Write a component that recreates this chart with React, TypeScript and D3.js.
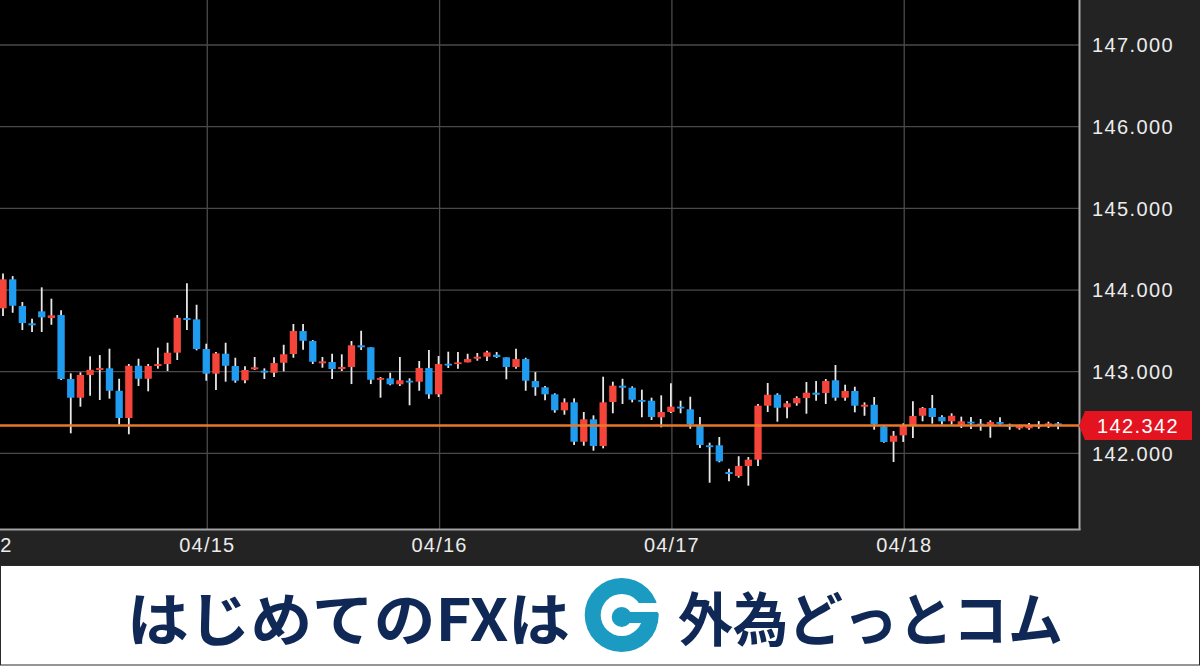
import React from "react";
import * as d3 from "d3";

const openP = [143.776,144.131,143.804,143.592,143.739,143.657,143.694,142.911,142.682,142.960,
143.021,143.042,142.767,142.433,143.073,142.914,143.070,143.094,143.233,143.657,
143.641,143.278,142.976,143.220,143.070,142.895,143.029,143.012,142.988,143.110,
143.217,143.498,143.376,143.103,143.119,143.033,143.058,143.323,143.299,142.902,
142.919,142.846,142.890,142.878,143.045,142.723,143.098,143.094,143.115,143.159,
143.184,143.208,143.176,143.058,143.155,142.886,142.809,142.723,142.528,142.625,
142.143,142.417,142.091,142.629,142.829,142.804,142.654,142.645,142.442,142.507,
142.572,142.540,142.335,142.099,142.099,141.772,141.723,141.846,141.923,142.584,
142.718,142.564,142.613,142.678,142.743,142.739,142.895,142.682,142.764,142.572,
142.596,142.327,142.143,142.221,142.339,142.461,142.556,142.446,142.393,142.351,
142.388,142.364,142.351,142.384,142.351,142.307,142.307,142.327,142.339,142.368];

const highP = [144.204,144.171,143.853,143.649,144.033,143.894,143.752,142.980,142.993,143.188,
143.204,143.282,142.914,143.094,143.159,143.094,143.294,143.355,143.694,144.082,
143.820,143.343,143.241,143.355,143.171,143.066,143.180,143.042,143.176,143.330,
143.584,143.584,143.388,143.180,143.220,143.213,143.376,143.502,143.299,142.935,
142.988,143.180,142.919,143.131,143.266,143.192,143.245,143.241,143.220,143.229,
143.257,143.241,143.176,143.282,143.171,142.996,142.825,142.736,142.674,142.674,
142.507,142.466,142.939,142.878,142.914,142.821,142.780,142.682,142.711,142.858,
142.645,142.694,142.446,142.131,142.201,141.813,141.965,141.956,142.605,142.862,
142.736,142.641,142.699,142.874,142.886,142.911,143.082,142.841,142.816,142.625,
142.690,142.339,142.274,142.368,142.638,142.568,142.715,142.466,142.491,142.450,
142.446,142.421,142.405,142.442,142.364,142.351,142.372,142.396,142.388,142.384];

const lowP = [143.682,143.722,143.510,143.486,143.486,143.575,142.898,142.246,142.572,142.706,
142.654,142.670,142.351,142.234,142.825,142.760,143.037,143.009,143.143,143.510,
143.262,142.890,142.776,142.878,142.865,142.858,143.021,142.911,142.935,143.005,
143.171,143.269,143.094,143.049,142.911,143.009,142.849,143.266,142.849,142.682,
142.834,142.825,142.589,142.767,142.670,142.690,143.045,143.037,143.115,143.135,
143.131,143.168,142.907,143.037,142.767,142.706,142.650,142.498,142.474,142.103,
142.094,142.033,142.062,142.491,142.605,142.625,142.442,142.409,142.319,142.494,
142.491,142.302,142.066,141.641,141.891,141.658,141.703,141.605,141.846,142.507,
142.388,142.430,142.584,142.486,142.645,142.605,142.645,142.645,142.503,142.461,
142.290,142.131,141.895,142.140,142.188,142.393,142.364,142.351,142.351,142.311,
142.299,142.278,142.192,142.351,142.290,142.290,142.290,142.302,142.311,142.295];

const closeP = [144.131,143.808,143.596,143.568,143.666,143.690,142.911,142.682,142.960,143.024,
143.045,142.767,142.433,143.073,142.914,143.070,143.094,143.233,143.661,143.633,
143.278,142.976,143.225,143.073,142.890,143.021,143.054,142.993,143.106,143.213,
143.498,143.379,143.122,143.127,143.033,143.058,143.323,143.299,142.902,142.923,
142.846,142.895,142.870,143.045,142.723,143.094,143.078,143.115,143.155,143.184,
143.237,143.180,143.058,143.155,142.890,142.809,142.723,142.528,142.625,142.143,
142.417,142.091,142.625,142.829,142.804,142.657,142.633,142.446,142.507,142.572,
142.552,142.356,142.103,142.078,141.903,141.748,141.846,141.923,142.584,142.718,
142.559,142.613,142.678,142.743,142.718,142.886,142.682,142.764,142.584,142.596,
142.356,142.140,142.217,142.335,142.458,142.556,142.446,142.393,142.461,142.393,
142.368,142.351,142.384,142.364,142.327,142.335,142.339,142.351,142.368,142.342];

const dateTickIndex = [-2, 21, 45, 69, 93];
const dateTickLabels = ["04/12", "04/15", "04/16", "04/17", "04/18"];
const priceTicks = [142, 143, 144, 145, 146, 147];
const currentPrice = 142.342;

const W = 1200;
const H = 667;
const plotRight = 1080;
const plotBottom = 530;
const bannerTop = 565;

const UP = "#f5453a";
const DOWN = "#1f9cf0";

export default function App() {
  const x = d3.scaleLinear().domain([0, 109]).range([3, 1058.1]);
  const y = d3.scaleLinear().domain([142, 147]).range([453.4, 45]);
  const fmt = d3.format(".3f");
  const bodyW = 7.3;

  const candles = openP.map((o, i) => ({
    o,
    h: highP[i],
    l: lowP[i],
    c: closeP[i],
    i,
  }));

  const priceY = y(currentPrice);
  const axisFont = "'Liberation Sans', Arial, sans-serif";

  return (
    <svg
      width={W}
      height={H}
      style={{ position: "absolute", left: 0, top: 0, display: "block" }}
    >
      <defs>
        <clipPath id="plotClip">
          <rect x={0} y={0} width={plotRight} height={plotBottom} />
        </clipPath>
      </defs>
      {/* backgrounds */}
      <rect x={0} y={0} width={W} height={bannerTop} fill="#232323" />
      <rect x={0} y={0} width={plotRight} height={plotBottom} fill="#000" />

      {/* grid */}
      <g clipPath="url(#plotClip)">
        {priceTicks.map((t) => (
          <line
            key={"h" + t}
            x1={0}
            x2={plotRight}
            y1={y(t)}
            y2={y(t)}
            stroke="#4a4a4a"
            strokeWidth={1.3}
          />
        ))}
        {dateTickIndex.map((t) => (
          <line
            key={"v" + t}
            x1={x(t) + 1}
            x2={x(t) + 1}
            y1={0}
            y2={plotBottom}
            stroke="#4a4a4a"
            strokeWidth={1.3}
          />
        ))}

        {/* candles */}
        {candles.map((d) => {
          const up = d.c > d.o;
          const top = y(Math.max(d.o, d.c));
          const bot = y(Math.min(d.o, d.c));
          const hgt = Math.max(bot - top, 1.8);
          return (
            <g key={d.i}>
              <line
                x1={x(d.i)}
                x2={x(d.i)}
                y1={y(d.h)}
                y2={y(d.l)}
                stroke="#e8e8e8"
                strokeWidth={1.8}
              />
              <rect
                x={x(d.i) - bodyW / 2}
                y={top}
                width={bodyW}
                height={hgt}
                fill={up ? UP : DOWN}
              />
            </g>
          );
        })}

        {/* current price line */}
        <line
          x1={0}
          x2={plotRight}
          y1={priceY}
          y2={priceY}
          stroke="#e8782a"
          strokeWidth={2.4}
        />
      </g>

      {/* plot border */}
      <line x1={1079.5} x2={1079.5} y1={0} y2={plotBottom} stroke="#a8a8a8" strokeWidth={2} />
      <line x1={0} x2={1080.5} y1={529.5} y2={529.5} stroke="#a0a0a0" strokeWidth={2} />

      {/* y axis labels */}
      {priceTicks.map((t) => (
        <text
          key={"yl" + t}
          x={1092}
          y={y(t)}
          dy="0.36em"
          fill="#ececec"
          fontFamily={axisFont}
          fontSize={20}
          letterSpacing={1.4}
        >
          {fmt(t)}
        </text>
      ))}

      {/* price label */}
      <polygon
        points={[
          [1079, priceY],
          [1085, priceY - 14.5],
          [1192, priceY - 14.5],
          [1192, priceY + 14.5],
          [1085, priceY + 14.5],
        ]
          .map((p) => p.join(","))
          .join(" ")}
        fill="#e3141f"
      />
      <text
        x={1138}
        y={priceY}
        dy="0.36em"
        textAnchor="middle"
        fill="#ffffff"
        fontFamily={axisFont}
        fontSize={20}
        letterSpacing={1.4}
      >
        {fmt(currentPrice)}
      </text>

      {/* x axis labels */}
      {dateTickIndex.map((t, k) => (
        <text
          key={"xl" + t}
          x={x(t) + 1}
          y={545}
          dy="0.36em"
          textAnchor="middle"
          fill="#ececec"
          fontFamily={axisFont}
          fontSize={20}
          letterSpacing={1.2}
        >
          {dateTickLabels[k]}
        </text>
      ))}

      {/* banner */}
      <rect x={0.5} y={565.5} width={1199} height={99.5} fill="#ffffff" stroke="#2a2a2a" strokeWidth={1} />
      <text
        x={127}
        y={616}
        dominantBaseline="central"
        fill="#0f2856"
        fontFamily="'Noto Sans CJK JP', sans-serif"
        fontWeight={700}
        fontSize={58}
        textLength={443}
        lengthAdjust="spacingAndGlyphs"
      >
        はじめてのFXは
      </text>
      <g>
        <circle cx={621.7} cy={615} r={37} fill="#1b9bc2" />
        <circle cx={621.7} cy={615} r={21} fill="#ffffff" />
        <rect x={628} y={603} width={32} height={10} fill="#ffffff" />
        <circle cx={621.7} cy={617} r={10} fill="#1b9bc2" />
        <rect x={621.7} y={612} width={36} height={11} fill="#1b9bc2" />
      </g>
      <text
        x={678}
        y={616}
        dominantBaseline="central"
        fill="#0f2856"
        fontFamily="'Noto Sans CJK JP', sans-serif"
        fontWeight={700}
        fontSize={58}
        textLength={385}
        lengthAdjust="spacingAndGlyphs"
      >
        外為どっとコム
      </text>
    </svg>
  );
}
